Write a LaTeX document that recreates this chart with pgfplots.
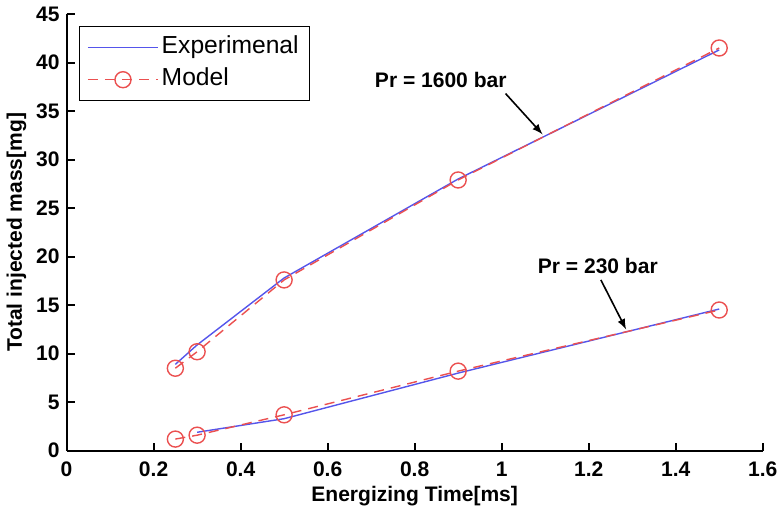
\documentclass[border=0pt]{standalone}
\usepackage{pgfplots}
\pgfplotsset{compat=1.18}
\usepackage{fontspec}
\setmainfont{Liberation Sans}
\definecolor{expblue}{RGB}{85,85,235}
\definecolor{modred}{RGB}{235,80,80}
\begin{document}
\begin{tikzpicture}
\begin{axis}[
  scale only axis,
  width=347.5pt, height=218pt,
  xmin=0, xmax=1.6, ymin=0, ymax=45,
  axis x line=bottom, axis y line=left,
  axis line style={line width=1pt, -},
  xtick={0,0.2,...,1.6}, ytick={0,5,...,45},
  xticklabels={0,0.2,0.4,0.6,0.8,1,1.2,1.4,1.6},
  tick align=inside,
  major tick length=4pt,
  tick style={line width=1pt, black},
  ticklabel style={font=\fontsize{10.5}{12}\selectfont\bfseries},
  xticklabel style={yshift=-2pt},
  /pgf/number format/assume math mode=true,
  xlabel={Energizing Time[ms]},
  ylabel={Total injected mass[mg]},
  label style={font=\fontsize{10.5}{12}\selectfont\bfseries},
  xlabel style={yshift=2pt},
  ylabel style={yshift=-2pt},
  legend style={at={(6pt,212pt)}, anchor=north west, draw=black, line width=0.6pt,
    font=\fontsize{12.3}{14}\selectfont, inner xsep=4pt, inner ysep=2.5pt, row sep=0pt,
    nodes={inner sep=1.5pt, text height=9.5pt, text depth=3.5pt},
    legend cell align=left},
  legend image code/.code={%
    \draw[mark repeat=2,mark phase=2,#1] plot coordinates {(0pt,0pt) (17.5pt,0pt) (35pt,0pt)};},
  clip=false,
]
\addplot[expblue, line width=0.7pt] coordinates {(0.25,8.9) (0.3,10.9) (0.5,17.8) (0.9,28.0) (1.5,41.3)};
\addlegendentry{Experimenal}
\addplot[modred, line width=0.7pt, dash pattern=on 5pt off 3.5pt, mark=o, mark size=4pt, mark options={solid, line width=0.7pt}] coordinates {(0.25,8.5) (0.3,10.2) (0.5,17.6) (0.9,27.9) (1.5,41.5)};
\addlegendentry{Model}
\addplot[expblue, line width=0.7pt, forget plot] coordinates {(0.3,1.9) (0.5,3.3) (0.9,8.0) (1.5,14.6)};
\addplot[modred, line width=0.7pt, dash pattern=on 5pt off 3.5pt, mark=o, mark size=4pt, mark options={solid, line width=0.7pt}, forget plot] coordinates {(0.25,1.2) (0.3,1.6) (0.5,3.7) (0.9,8.2) (1.5,14.5)};
\node[font=\fontsize{10.5}{12}\selectfont\bfseries] at (axis cs:0.86,38.2) {Pr = 1600 bar};
\draw[-latex, line width=0.8pt] (axis cs:1.009,36.8) -- (axis cs:1.094,32.6);
\node[font=\fontsize{10.5}{12}\selectfont\bfseries] at (axis cs:1.221,19.0) {Pr = 230 bar};
\draw[-latex, line width=0.8pt] (axis cs:1.228,17.6) -- (axis cs:1.286,12.5);
\end{axis}
\end{tikzpicture}
\end{document}
